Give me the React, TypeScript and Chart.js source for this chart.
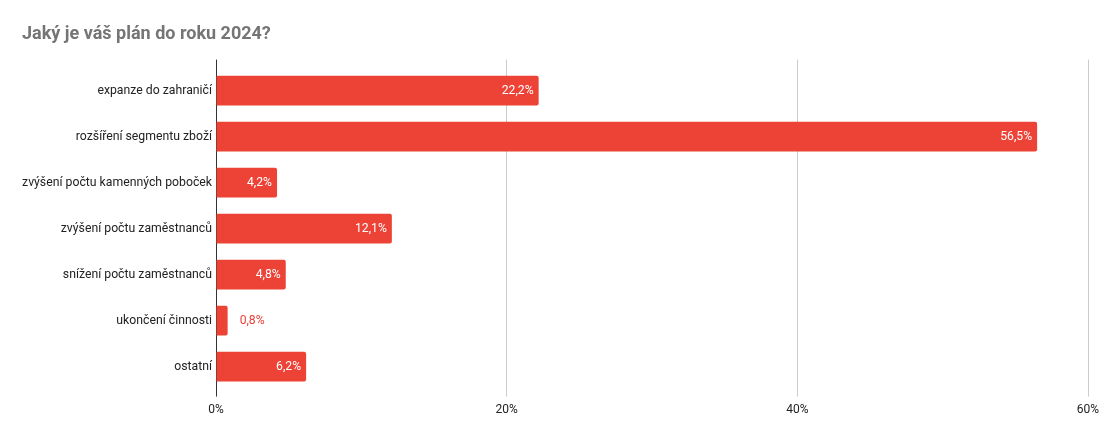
import React, { useEffect, useRef } from "react";
import { Chart, registerables } from "chart.js";

Chart.register(...registerables);

const title = "Jaký je váš plán do roku 2024?";
const categories = [
  "expanze do zahraničí",
  "rozšíření segmentu zboží",
  "zvýšení počtu kamenných poboček",
  "zvýšení počtu zaměstnanců",
  "snížení počtu zaměstnanců",
  "ukončení činnosti",
  "ostatní",
];
const values = [22.2, 56.5, 4.2, 12.1, 4.8, 0.8, 6.2];
const axisMin = 0;
const axisMax = 60;
const axisStep = 20;

const BAR = "#ed4337";
const FONT = "Roboto";

const fmt = (v: number) => v.toFixed(1).replace(".", ",") + "%";

const labelPlugin = {
  id: "barLabels",
  afterDatasetsDraw(chart: any) {
    const { ctx } = chart;
    const meta = chart.getDatasetMeta(0);
    ctx.save();
    ctx.font = `12.2px ${FONT}`;
    ctx.textBaseline = "middle";
    meta.data.forEach((el: any, i: number) => {
      const text = fmt(values[i]);
      const w = ctx.measureText(text).width;
      const left = el.base;
      const right = el.x;
      if (right - left >= w + 10) {
        ctx.fillStyle = "#ffffff";
        ctx.textAlign = "right";
        ctx.fillText(text, right - 5, el.y);
      } else {
        ctx.fillStyle = BAR;
        ctx.textAlign = "left";
        ctx.fillText(text, right + 12, el.y);
      }
    });
    ctx.restore();
  },
};

const gridColor = (c: any) => (c.tick && c.tick.value === 0 ? "#333333" : "#cccccc");

export default function App() {
  const ref = useRef<HTMLCanvasElement>(null);
  useEffect(() => {
    if (!ref.current) return;
    const chart = new Chart(ref.current, {
      type: "bar",
      data: {
        labels: categories,
        datasets: [
          {
            data: values,
            backgroundColor: BAR,
            borderRadius: 2,
            borderSkipped: "start",
            categoryPercentage: 1,
            barPercentage: 0.65,
          },
        ],
      },
      plugins: [labelPlugin],
      options: {
        indexAxis: "y",
        animation: false,
        responsive: true,
        maintainAspectRatio: false,
        layout: { padding: { left: 22, right: 22, top: 0, bottom: 16 } },
        plugins: {
          legend: { display: false },
          tooltip: { enabled: false },
          title: {
            display: true,
            text: title,
            align: "start",
            color: "#757575",
            font: { family: FONT, size: 18, weight: "bold", lineHeight: 1.2 },
            padding: { top: 24, bottom: 14 },
          },
        },
        scales: {
          x: {
            type: "linear",
            position: "bottom",
            min: axisMin,
            max: axisMax,
            ticks: {
              stepSize: axisStep,
              color: "#222222",
              font: { family: FONT, size: 12 },
              padding: 6,
              callback: (v: any) => v + "%",
            },
            grid: { color: gridColor, tickLength: 7, drawTicks: true, lineWidth: 1 },
            border: { display: false },
          },
          x2: {
            type: "linear",
            axis: "x",
            position: "top",
            min: axisMin,
            max: axisMax,
            ticks: { stepSize: axisStep, display: false },
            grid: { color: gridColor, tickLength: 8, drawTicks: true, drawOnChartArea: false },
            border: { display: false },
          },
          y: {
            type: "category",
            ticks: {
              color: "#222222",
              font: { family: FONT, size: 12.25 },
              padding: 4,
            },
            grid: { display: false, drawTicks: false },
            border: { display: false },
            afterFit: (s: any) => {
              s.width = 194;
            },
          },
        },
      } as any,
    });
    return () => chart.destroy();
  }, []);
  return (
    <div style={{ position: "absolute", left: 0, top: 0, width: 1110, height: 439, background: "#fff" }}>
      <canvas ref={ref} />
    </div>
  );
}
